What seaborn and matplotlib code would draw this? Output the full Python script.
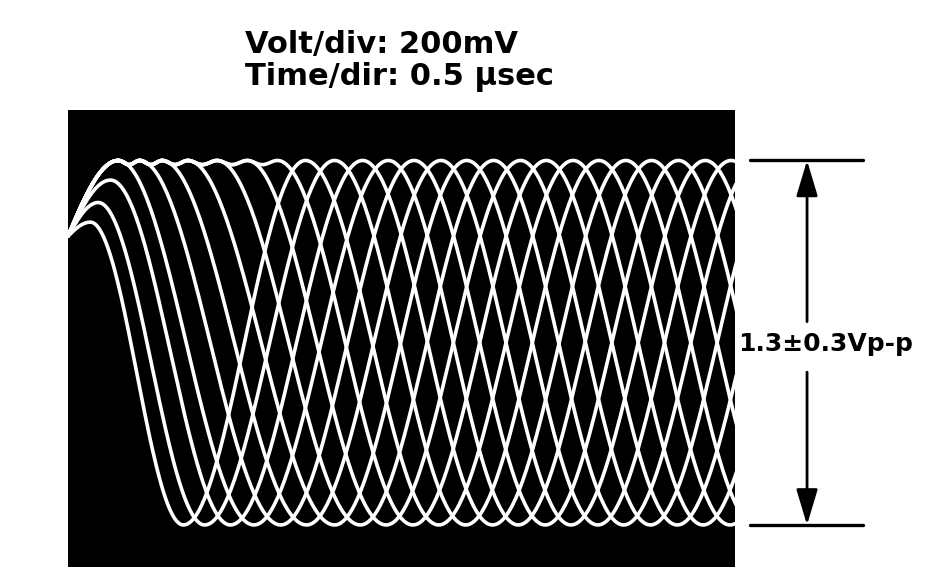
import numpy as np
import pandas as pd
import matplotlib
matplotlib.use("Agg")
import matplotlib.pyplot as plt
import seaborn as sns

# ---- readings from the oscilloscope screen (time in microseconds, voltage in volts)
screen_time = (0.0, 5.955)
screen_volt = (-0.80, 0.83)
trigger_level = 0.38          # all sweeps start here at the left edge
peak_level = 0.65             # +half of 1.3 Vp-p
trough_level = -0.65
top_dip_level = 0.635         # small scallop between neighbouring top arcs

trace_ids = ["s0", "s1", "s2", "s3", "s4", "s5", "s6", "s7", "s8", "s9"]
# first maximum of every sweep
first_peak_t = [0.45, 0.64, 0.84, 1.07, 1.33, 1.60, 1.87, 0.20, 0.27, 0.38]
first_peak_v = [0.65, 0.65, 0.65, 0.65, 0.65, 0.65, 0.65, 0.43, 0.50, 0.58]
# how many of the early top arcs a sweep rides along before its own peak
arcs_before = [0, 1, 2, 3, 4, 5, 6, 0, 0, 0]
# later extrema of every sweep (alternating trough, peak, trough ...)
later_extrema_t = [
    [1.66, 2.86, 4.02, 5.21, 6.38],
    [1.90, 3.09, 4.26, 5.45, 6.62],
    [2.13, 3.33, 4.49, 5.69, 6.85],
    [2.38, 3.56, 4.73, 5.92, 7.09],
    [2.61, 3.80, 4.96, 6.16],
    [2.84, 4.04, 5.20, 6.39],
    [3.08, 4.27, 5.44, 6.63],
    [1.03, 2.12, 3.31, 4.51, 5.67, 6.87],
    [1.22, 2.38, 3.55, 4.74, 5.91, 7.10],
    [1.45, 2.63, 3.79, 4.98, 6.14],
]

title_lines = ["Volt/div: 200mV", "Time/dir: 0.5 \u03bcsec"]
pp_label = "1.3\u00b10.3Vp-p"


def seg(t0, v0, t1, v1, rise=False, n=80):
    s = np.linspace(0, 1, n)
    if rise:
        w = np.sin(np.pi / 2 * s)
    else:
        w = (1 - np.cos(np.pi * s)) / 2
    return t0 + (t1 - t0) * s, v0 + (v1 - v0) * w


rows = []
for i, name in enumerate(trace_ids):
    k = arcs_before[i]
    tops = [first_peak_t[j] for j in range(k)] + [first_peak_t[i]]
    pts = [(tops[0], first_peak_v[i] if k == 0 else peak_level)]
    for a, b in zip(tops[:-1], tops[1:]):
        pts.append(((a + b) / 2, top_dip_level))
        pts.append((b, peak_level))
    lvl = trough_level
    for t in later_extrema_t[i]:
        pts.append((t, lvl))
        lvl = peak_level if lvl == trough_level else trough_level
    ts, vs = seg(0.0, trigger_level, pts[0][0], pts[0][1], rise=True)
    T, V = [ts], [vs]
    for (a, va), (b, vb) in zip(pts[:-1], pts[1:]):
        ts, vs = seg(a, va, b, vb)
        T.append(ts[1:])
        V.append(vs[1:])
    rows.append(pd.DataFrame({"t": np.concatenate(T), "v": np.concatenate(V), "trace": name}))
df = pd.concat(rows, ignore_index=True)

sns.set_style("white")
plt.rcParams["font.family"] = ["DejaVu Sans"]
plt.rcParams["text.color"] = "black"

fig = plt.figure(figsize=(9.5, 5.75), dpi=100)
ax = fig.add_axes([68 / 950, 8 / 575, 667 / 950, 457 / 575])
ax.set_facecolor("black")

sns.lineplot(data=df, x="t", y="v", hue="trace", palette=["white"] * len(trace_ids),
             estimator=None, sort=False, legend=False, linewidth=2.6, ax=ax)

ax.set_xlim(*screen_time)
ax.set_ylim(*screen_volt)
ax.set_xticks([])
ax.set_yticks([])
ax.set_xlabel("")
ax.set_ylabel("")
for sp in ax.spines.values():
    sp.set_visible(False)

# title
fig.text(245 / 950, 1 - 53 / 575, title_lines[0], fontsize=22, fontweight="bold",
         color="black", ha="left", va="baseline")
fig.text(245 / 950, 1 - 85 / 575, title_lines[1], fontsize=22, fontweight="bold",
         color="black", ha="left", va="baseline")

# peak-to-peak dimension
tr = ax.get_yaxis_transform()
for lv in (peak_level, trough_level):
    ax.plot([1.0225, 1.192], [lv, lv], color="black", lw=2.4, transform=tr, clip_on=False)
arrow_x = 1.108
for start, end in ((0.075, peak_level), (-0.105, trough_level)):
    ax.annotate("", xy=(arrow_x, end), xytext=(arrow_x, start), xycoords=tr, textcoords=tr,
                arrowprops=dict(arrowstyle="-|>,head_length=1.1,head_width=0.33",
                                lw=2, color="black", shrinkA=0, shrinkB=0,
                                mutation_scale=20))
ax.text(1.0045, -0.005, pp_label, transform=tr, fontsize=18, fontweight="bold",
        color="black", ha="left", va="center", clip_on=False)

fig.savefig("out.png", dpi=100, facecolor="white")
